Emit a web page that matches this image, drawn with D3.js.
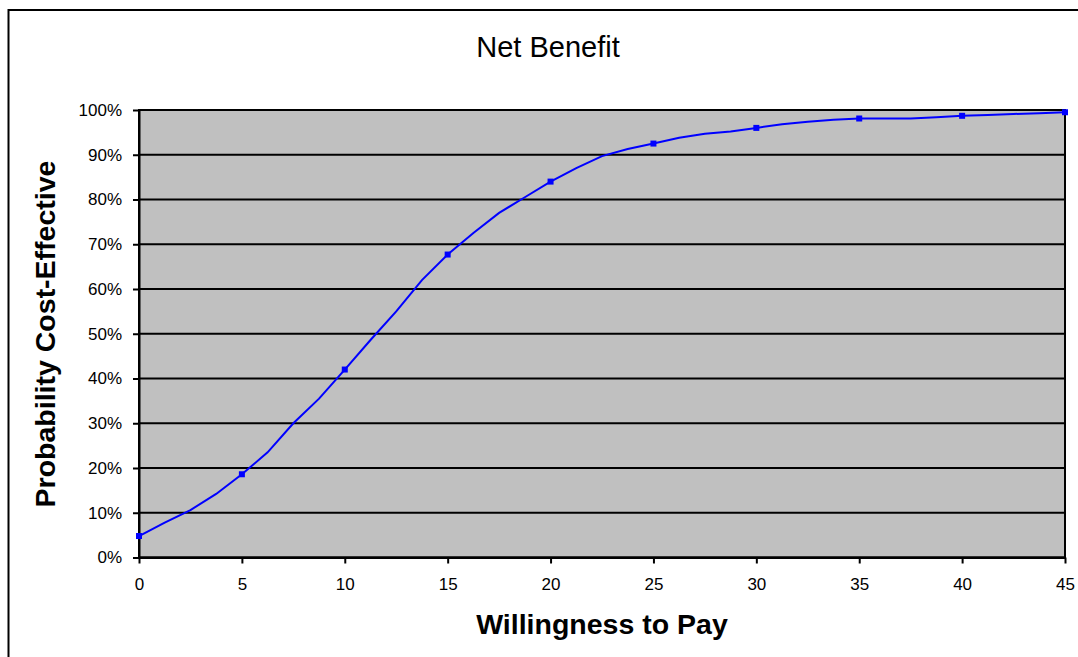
<!DOCTYPE html>
<html>
<head>
<meta charset="utf-8">
<script src="https://cdn.jsdelivr.net/npm/d3@7"></script>
<style>
  body { margin: 0; background: #fff; }
  svg { display: block; font-family: "Liberation Sans", Arial, sans-serif; }
</style>
</head>
<body>
<svg id="svg" width="1078" height="657"></svg>
<script>
// ****************************************
// Data

var wtp = [0, 1.25, 2.5, 3.75, 5, 6.25, 7.5, 8.75, 10, 11.25, 12.5, 13.75, 15, 16.25, 17.5, 18.75,
  20, 21.25, 22.5, 23.75, 25, 26.25, 27.5, 28.75, 30, 31.25, 32.5, 33.75, 35, 36.25, 37.5, 38.75,
  40, 41.25, 42.5, 43.75, 45];
var prob = [4.8, 7.8, 10.6, 14.2, 18.6, 23.5, 30.0, 35.5, 42.0, 48.6, 55.0, 62.0, 67.7, 72.5, 77.0, 80.5,
  84.0, 87.0, 89.7, 91.3, 92.5, 93.8, 94.7, 95.2, 96.0, 96.8, 97.4, 97.8, 98.1, 98.1, 98.1, 98.4,
  98.7, 98.9, 99.1, 99.3, 99.5];
var marker_wtp = [0, 5, 10, 15, 20, 25, 30, 35, 40, 45];
var x_ticks = [0, 5, 10, 15, 20, 25, 30, 35, 40, 45];
var y_ticks = [0, 10, 20, 30, 40, 50, 60, 70, 80, 90, 100];

var title = 'Net Benefit';
var x_title = 'Willingness to Pay';
var y_title = 'Probability Cost-Effective';

// ****************************************
// Layout

var plot = { left: 139, top: 110, right: 1065, bottom: 557.5 };

var svg = d3.select('#svg');

// outer chart border (runs off the right and bottom edges)
svg.append('rect').attr('x', 8.5).attr('y', 10).attr('width', 1100).attr('height', 700)
  .style('fill', 'white').style('stroke', 'black').style('stroke-width', 2);

var x = d3.scaleLinear().domain([0, 45]).range([plot.left, plot.right]);
var y = d3.scaleLinear().domain([0, 100]).range([plot.bottom, plot.top]);

// plot background
svg.append('rect').attr('x', plot.left).attr('y', plot.top)
  .attr('width', plot.right - plot.left).attr('height', plot.bottom - plot.top)
  .style('fill', '#c0c0c0');

// gridlines
svg.append('g').selectAll('line').data(y_ticks).join('line')
  .attr('x1', plot.left).attr('x2', plot.right)
  .attr('y1', d => y(d)).attr('y2', d => y(d))
  .style('stroke', 'black').style('stroke-width', 2);

// plot frame
svg.append('rect').attr('x', plot.left).attr('y', plot.top)
  .attr('width', plot.right - plot.left).attr('height', plot.bottom - plot.top)
  .style('fill', 'none').style('stroke', 'black').style('stroke-width', 2);

// axes
var x_axis = svg.append('g').attr('transform', 'translate(0,' + plot.bottom + ')')
  .call(d3.axisBottom(x).tickValues(x_ticks).tickSize(6).tickPadding(14).tickSizeOuter(0));
var y_axis = svg.append('g').attr('transform', 'translate(' + plot.left + ',0)')
  .call(d3.axisLeft(y).tickValues(y_ticks).tickSize(6).tickPadding(11).tickSizeOuter(0)
    .tickFormat(d => d + '%'));

[x_axis, y_axis].forEach(a => {
  a.select('.domain').style('stroke', 'black').style('stroke-width', 2);
  a.selectAll('.tick line').style('stroke', 'black').style('stroke-width', 2);
  a.selectAll('.tick text').style('font-size', '17px').style('fill', 'black')
    .style('font-family', '"Liberation Sans", Arial, sans-serif');
});

// ****************************************
// Curve

var pts = wtp.map((d, i) => [d, prob[i]]);
var line = d3.line().x(d => x(d[0])).y(d => y(d[1]));

svg.append('path').datum(pts).attr('d', line)
  .style('fill', 'none').style('stroke', '#0000ff').style('stroke-width', 2);

svg.append('g').selectAll('rect').data(pts.filter(d => marker_wtp.indexOf(d[0]) >= 0)).join('rect')
  .attr('x', d => x(d[0]) - 3).attr('y', d => y(d[1]) - 3)
  .attr('width', 6).attr('height', 6)
  .style('fill', '#0000ff');

// ****************************************
// Titles

svg.append('text').attr('x', 548).attr('y', 57).attr('text-anchor', 'middle')
  .style('font-size', '29px').text(title);

svg.append('text').attr('x', 602).attr('y', 634).attr('text-anchor', 'middle')
  .style('font-size', '28.5px').style('font-weight', 'bold').text(x_title);

svg.append('text').attr('transform', 'translate(55,334) rotate(-90)').attr('text-anchor', 'middle')
  .style('font-size', '28.5px').style('font-weight', 'bold').text(y_title);
</script>
</body>
</html>
